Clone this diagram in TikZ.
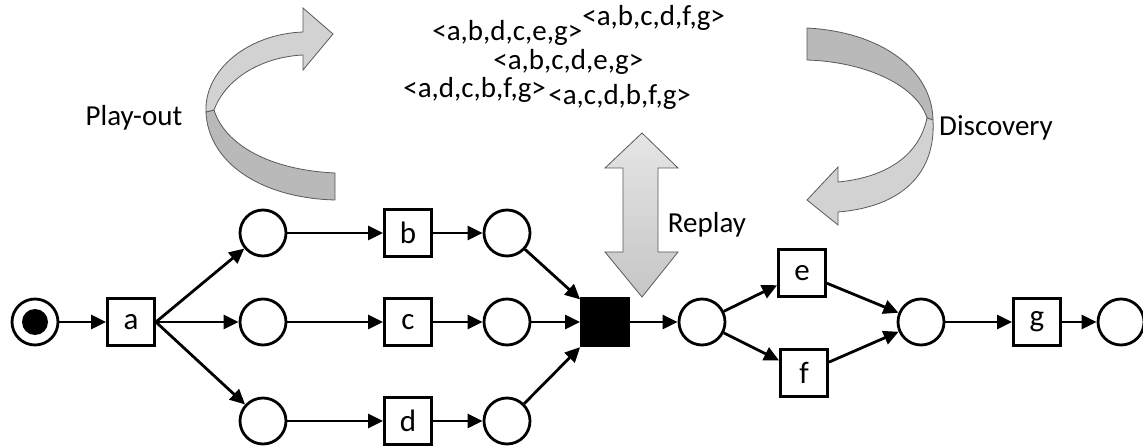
\documentclass[tikz,border=0pt]{standalone}
\usepackage{fontspec}
\setmainfont{Carlito}
\usetikzlibrary{arrows.meta}

\begin{document}
\begin{tikzpicture}[x=0.5pt, y=-0.5pt, line width=1.4pt,
	every node/.style={font=\fontsize{14.5}{16}\selectfont, inner sep=0pt},
	place/.style={draw, circle, minimum size=23pt},
	trans/.style={draw, minimum size=23.5pt, font=\fontsize{15.5}{16}\selectfont},
	silent/.style={draw, fill=black, minimum width=23.5pt, minimum height=24pt},
	arc/.style={-{Triangle[length=7.5pt,width=7pt]}},
	ribbon/.style={draw=gray!70!black, line width=0.4pt}]
		\useasboundingbox (0,0) rectangle (1143,448);

		% Play-out ribbon
		\filldraw[ribbon, fill=gray!55] (206,112) .. controls (208,162) and (260,198) .. (335,200) -- (335,173) .. controls (270,170) and (225,145) .. (214,110) -- cycle;
		\filldraw[ribbon, fill=gray!35] (303,32) -- (303,8) -- (333,34) -- (303,70) -- (303,55) .. controls (262,57) and (226,78) .. (214,110) -- (206,112) .. controls (204,70) and (248,34) .. (303,32) -- cycle;

		% Discovery ribbon
		\filldraw[ribbon, fill=gray!55] (807,28) .. controls (882,32) and (932,70) .. (933,120) -- (927,118) .. controls (918,88) and (870,62) .. (807,60) -- cycle;
		\filldraw[ribbon, fill=gray!35] (933,120) .. controls (936,175) and (900,207) .. (838,212) -- (838,225) -- (807,200) -- (838,167) -- (838,182) .. controls (880,178) and (918,160) .. (927,118) -- cycle;

		% Replay arrow
		\shade[ribbon, top color=gray!20, bottom color=gray!45] (642,133) -- (678,168) -- (658,168) -- (658,252) -- (678,252) -- (642,297) -- (605,252) -- (623,252) -- (623,168) -- (605,168) -- cycle;

		% Labels
		\node (playout) at (134,118) {Play-out};
		\node (discovery) at (996,128) {Discovery};
		\node (replay) at (707,225) {Replay};

		% Event log
		\node[anchor=west] (tr1) at (431,33) {<a,b,d,c,e,g>};
		\node[anchor=west] (tr2) at (581,18) {<a,b,c,d,f,g>};
		\node[anchor=west] (tr3) at (492,62) {<a,b,c,d,e,g>};
		\node[anchor=west] (tr4) at (402,90) {<a,d,c,b,f,g>};
		\node[anchor=west] (tr5) at (547,97) {<a,c,d,b,f,g>};

		% Net
		\node[place] (start) at (35,322) {};
		\node[circle, fill=black, minimum size=13pt] (token) at (start) {};
		\node[trans] (a) at (131,322) {a};
		\node[place] (p1) at (263,233) {};
		\node[place] (p2) at (263,322) {};
		\node[place] (p3) at (263,421) {};
		\node[trans] (b) at (408,233) {b};
		\node[trans] (c) at (408,322) {c};
		\node[trans] (d) at (408,421) {d};
		\node[place] (p4) at (507,233) {};
		\node[place] (p5) at (507,322) {};
		\node[place] (p6) at (507,421) {};
		\node[silent] (tau) at (605,322) {};
		\node[place] (p7) at (702,322) {};
		\node[trans] (e) at (802,273) {e};
		\node[trans] (f) at (804,373) {f};
		\node[place] (p8) at (921,322) {};
		\node[trans] (g) at (1037,322) {g};
		\node[place] (end) at (1121,322) {};

		% Arcs
		\draw[arc] (start) -- (a);
		\foreach \t in {p1,p2,p3}
			\draw[arc] (a.east) -- (\t);
		\foreach \s/\t in {p1/b, p2/c, p3/d, b/p4, c/p5, d/p6, p4/tau, p5/tau, p6/tau, tau/p7, p7/e, p7/f, e/p8, f/p8, p8/g, g/end}
			\draw[arc] (\s) -- (\t);
\end{tikzpicture}
\end{document}
